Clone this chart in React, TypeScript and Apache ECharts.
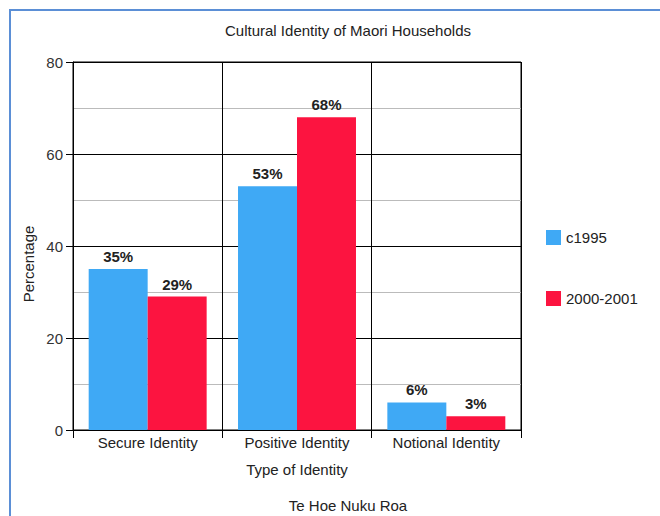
import React, { useEffect, useRef } from "react";
import * as echarts from "echarts";

const categories = ["Secure Identity", "Positive Identity", "Notional Identity"];
const seriesNames = ["c1995", "2000-2001"];
const c1995 = [35, 53, 6];
const y2000 = [29, 68, 3];
const chartTitle = "Cultural Identity of Maori Households";
const subText = "Te Hoe Nuku Roa";
const xName = "Type of Identity";
const yName = "Percentage";

const FONT = "'Liberation Sans', Arial, sans-serif";

export default function App() {
  const ref = useRef<HTMLDivElement>(null);
  useEffect(() => {
    if (!ref.current) return;
    const chart = echarts.init(ref.current, null, { renderer: "svg" });
    const label = {
      show: true,
      position: "top",
      distance: 5,
      formatter: "{c}%",
      fontFamily: FONT,
      fontWeight: "bold",
      fontSize: 15,
      color: "#222",
    };
    chart.setOption({
      animation: false,
      backgroundColor: "#fff",
      textStyle: { fontFamily: FONT },
      title: [
        {
          text: chartTitle,
          left: 343,
          textAlign: "center",
          top: 18,
          textStyle: { fontFamily: FONT, fontSize: 15, fontWeight: "normal", color: "#222" },
        },
        {
          text: subText,
          left: 343,
          textAlign: "center",
          top: 493,
          textStyle: { fontFamily: FONT, fontSize: 15, fontWeight: "normal", color: "#222" },
        },
      ],
      graphic: [
        {
          type: "rect",
          shape: { x: 10, y: 10, width: 700, height: 600 },
          style: { fill: "none", stroke: "#5b8fd6", lineWidth: 2 },
          silent: true,
        },
        {
          type: "text",
          x: 28,
          y: 264,
          rotation: Math.PI / 2,
          style: {
            text: yName,
            fontFamily: FONT,
            fontSize: 15,
            fill: "#222",
            textAlign: "center",
            textVerticalAlign: "middle",
          },
          silent: true,
        },
      ],
      legend: {
        orient: "vertical",
        left: 541,
        top: 225,
        itemGap: 46,
        itemWidth: 15,
        itemHeight: 15,
        icon: "rect",
        textStyle: { fontFamily: FONT, fontSize: 15, color: "#222", padding: [5, 0, 0, 0] },
        data: seriesNames,
      },
      grid: {
        left: 73,
        right: 139,
        top: 62,
        bottom: 86,
        show: true,
        borderColor: "#000",
        borderWidth: 1,
        containLabel: false,
      },
      xAxis: {
        type: "category",
        data: categories,
        name: xName,
        nameLocation: "middle",
        nameGap: 32,
        nameTextStyle: { fontFamily: FONT, fontSize: 15, color: "#222" },
        axisLine: { show: true, lineStyle: { color: "#000" } },
        axisTick: { show: true, length: 8, lineStyle: { color: "#000" } },
        axisLabel: { fontFamily: FONT, fontSize: 15, color: "#222", margin: 5 },
        splitLine: { show: true, lineStyle: { color: "#000", width: 1 } },
      },
      yAxis: {
        type: "value",
        min: 0,
        max: 80,
        interval: 20,
        axisLine: { show: true, lineStyle: { color: "#000" } },
        axisTick: { show: true, length: 7, lineStyle: { color: "#000" } },
        axisLabel: { fontFamily: FONT, fontSize: 15, color: "#333", margin: 10 },
        splitLine: { show: true, lineStyle: { color: "#000", width: 1 } },
        minorTick: { show: false, splitNumber: 2 },
        minorSplitLine: { show: true, lineStyle: { color: "#bbb", width: 1 } },
      },
      series: [
        {
          name: seriesNames[0],
          type: "bar",
          data: c1995,
          barGap: "0%",
          barCategoryGap: "21%",
          itemStyle: { color: "#3fa9f5" },
          label,
        },
        {
          name: seriesNames[1],
          type: "bar",
          data: y2000,
          barGap: "0%",
          barCategoryGap: "21%",
          itemStyle: { color: "#fc1440" },
          label,
        },
      ],
    });
    return () => chart.dispose();
  }, []);
  return (
    <div
      ref={ref}
      style={{ position: "fixed", left: 0, top: 0, width: 660, height: 516 }}
    />
  );
}
